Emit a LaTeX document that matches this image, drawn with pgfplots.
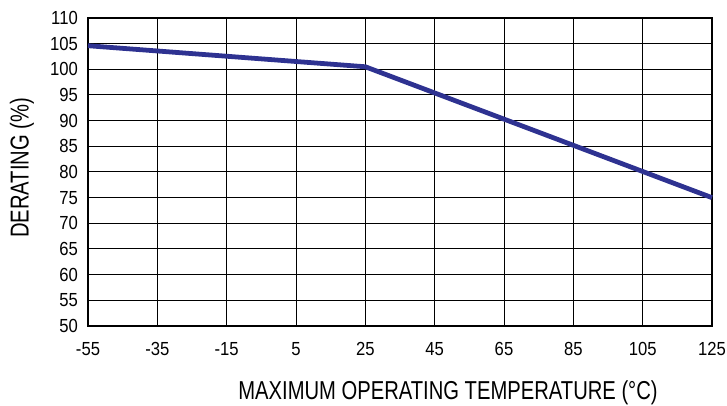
\documentclass[border=0pt]{standalone}
\usepackage{fontspec}
\setmainfont[FakeStretch=0.88]{Liberation Sans}
\newfontfamily\labelfont[FakeStretch=0.78]{Liberation Sans}
\usepackage{pgfplots}
\pgfplotsset{compat=1.18}
\usetikzlibrary{calc}
\definecolor{curve}{RGB}{46,50,145}
\begin{document}
\begin{tikzpicture}[x=1bp,y=1bp]
\begin{axis}[
    scale only axis,
    width=624bp, height=308bp,
    xmin=-55, xmax=125, ymin=50, ymax=110,
    xtick={-55,-35,...,125},
    ytick={50,55,...,110},
    grid=major,
    major grid style={black, line width=1pt},
    axis line style={black, line width=2.4pt},
    tick style={draw=none},
    /pgf/number format/assume math mode=true,
    ticklabel style={font=\fontsize{19}{19}\selectfont, inner sep=0pt},
    xticklabel style={anchor=center, yshift=-23bp},
    yticklabel style={anchor=east, xshift=-10bp},
    xlabel={MAXIMUM OPERATING TEMPERATURE (°C)},
    ylabel={DERATING (\%)},
    label style={font=\labelfont\fontsize{26}{26}\selectfont, inner sep=0pt},
    xlabel style={at={(rel axis cs:0.5,0)}, anchor=center, xshift=48bp, yshift=-67bp},
    ylabel style={at={(rel axis cs:0,0.5)}, anchor=center, xshift=4bp, yshift=66bp},
    clip=false,
]
\addplot[curve, line width=4.8pt, line join=round] coordinates {
    (-55,104.6)
    (25,100.5)
    (125,75)
};
\coordinate (sw) at (rel axis cs:0,0);
\coordinate (ne) at (rel axis cs:1,1);
\end{axis}
\pgfresetboundingbox
\path[use as bounding box] ($(sw)+(-88bp,-80bp)$) rectangle ($(ne)+(15bp,18bp)$);
\end{tikzpicture}
\end{document}
